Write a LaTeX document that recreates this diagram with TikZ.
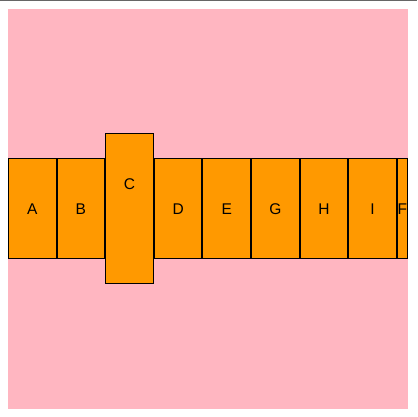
\documentclass[tikz,border=0pt]{standalone}
\usepackage{fontspec}
\setmainfont{Liberation Sans}
\usetikzlibrary{positioning}
\definecolor{pinkbg}{HTML}{FFB6C1}
\definecolor{boxorange}{HTML}{FF9900}
\tikzset{box/.style={draw, fill=boxorange, line width=1pt, inner sep=0pt, outer sep=0.5pt,
  minimum width=47.6pt, minimum height=100pt, font=\fontsize{15.5}{18}\selectfont},
tallbox/.style={box, minimum height=150pt},
lbl/.style={font=\fontsize{15.5}{18}\selectfont, inner sep=0pt}
}
\begin{document}
\begin{tikzpicture}[x=1pt,y=1pt]
\useasboundingbox (0,0) rectangle (417,417);
\fill[black!60] (0,415.6) rectangle (417,417);
\fill[pinkbg] (8,8) rectangle (408,408);
% row of boxes, each glued to the one before
\node[box] (a) at (32.3,208.2) {A};
\node[box,right=0pt of a] (b) {B};
\node[tallbox,right=0pt of b] (c) {};
\node[box,right=0pt of c] (d) {D};
\node[box,right=0pt of d] (e) {E};
\node[box,right=0pt of e] (g) {G};
\node[box,right=0pt of g] (h) {H};
\node[box,right=0pt of h] (i) {I};
\node[box,minimum width=10.2pt,right=0pt of i] (f) {F};
\node[lbl] (clbl) at ([yshift=-51pt]c.north) {C};
\end{tikzpicture}
\end{document}
